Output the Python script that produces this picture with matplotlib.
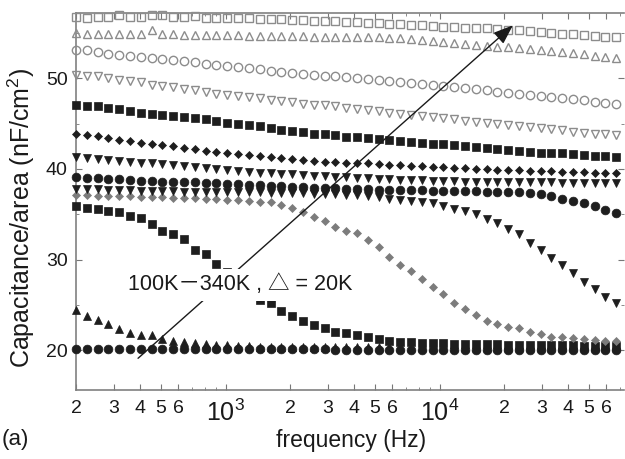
import numpy as np
import matplotlib
matplotlib.use("Agg")
import matplotlib.pyplot as plt
from matplotlib.ticker import FixedLocator, FixedFormatter, NullFormatter

plt.rcParams['font.family'] = ['Liberation Sans', 'DejaVu Sans']
plt.rcParams['mathtext.fontset'] = 'custom'
plt.rcParams['mathtext.rm'] = 'Liberation Sans'
plt.rcParams['mathtext.it'] = 'Liberation Sans:italic'

# measurement frequency grid (Hz), 20 points per decade
freq = np.logspace(np.log10(200), np.log10(67000), 51)

T100 = [20.1]*24 + [20.0]*27
T120 = [24.4, 23.8, 23.3, 22.9, 22.3, 21.9, 21.7, 21.7, 21.2, 21.0,
        20.9, 20.8, 20.7, 20.6, 20.6, 20.5, 20.5, 20.4, 20.4, 20.4,
        20.4, 20.4, 20.4, 20.4, 20.4, 20.4, 20.4, 20.4, 20.4, 20.4,
        20.3, 20.3, 20.3, 20.3, 20.3, 20.3, 20.3, 20.3, 20.3, 20.3,
        20.3, 20.3, 20.3, 20.3, 20.3, 20.3, 20.3, 20.3, 20.3, 20.3, 20.3]
T140 = [35.9, 35.7, 35.6, 35.3, 35.2, 34.8, 34.6, 33.9, 33.1, 32.8,
        32.3, 31.1, 30.6, 29.5, 28.6, 27.6, 26.5, 25.5, 25.2, 24.3,
        23.8, 23.2, 22.8, 22.4, 22.0, 21.9, 21.7, 21.5, 21.2, 21.0,
        20.9, 20.9, 20.8, 20.8, 20.8, 20.7, 20.7, 20.7, 20.7, 20.7,
        20.6, 20.6, 20.6, 20.6, 20.6, 20.6, 20.6, 20.5, 20.5, 20.5, 20.5]
T160 = [37.1, 37.1, 37.0, 37.0, 37.0, 37.0, 36.9, 36.9, 36.9, 36.8,
        36.8, 36.8, 36.7, 36.7, 36.6, 36.6, 36.5, 36.4, 36.3, 36.0,
        35.7, 35.2, 34.7, 34.2, 33.6, 33.2, 32.9, 32.2, 31.4, 30.3,
        29.4, 28.7, 27.8, 27.0, 26.2, 25.2, 24.5, 23.9, 23.2, 22.9,
        22.6, 22.4, 22.0, 21.8, 21.5, 21.4, 21.3, 21.2, 21.1, 21.0, 21.0]
T180 = [37.8, 37.8, 37.8, 37.7, 37.7, 37.7, 37.6, 37.6, 37.6, 37.6,
        37.5, 37.5, 37.5, 37.5, 37.4, 37.4, 37.4, 37.4, 37.3, 37.3,
        37.3, 37.3, 37.2, 37.2, 37.2, 37.1, 37.1, 37.0, 36.85, 36.7,
        36.6, 36.5, 36.4, 36.2, 35.9, 35.6, 35.3, 35.0, 34.5, 34.0,
        33.4, 32.8, 31.8, 31.1, 30.2, 29.4, 28.5, 27.5, 26.8, 25.9, 25.2]
T200 = [39.1, 39.0, 39.0, 38.9, 38.9, 38.8, 38.7, 38.7, 38.6, 38.6,
        38.5, 38.5, 38.4, 38.4, 38.3, 38.3, 38.2, 38.2, 38.1, 38.1,
        38.0, 38.0, 37.9, 37.9, 37.9, 37.8, 37.8, 37.8, 37.7, 37.7,
        37.7, 37.7, 37.7, 37.6, 37.6, 37.6, 37.6, 37.6, 37.5, 37.5,
        37.5, 37.4, 37.3, 37.2, 37.0, 36.7, 36.5, 36.2, 35.9, 35.5, 35.1]
T220 = [41.3, 41.2, 41.1, 41.0, 40.9, 40.8, 40.7, 40.6, 40.5, 40.4,
        40.3, 40.2, 40.1, 40.0, 39.9, 39.8, 39.7, 39.6, 39.5, 39.4,
        39.4, 39.3, 39.2, 39.2, 39.1, 39.1, 39.0, 39.0, 38.9, 38.9,
        38.8, 38.8, 38.8, 38.7, 38.7, 38.7, 38.6, 38.6, 38.6, 38.6,
        38.5, 38.5, 38.5, 38.5, 38.5, 38.4, 38.4, 38.4, 38.4, 38.4, 38.4]
T240 = [43.9, 43.7, 43.6, 43.4, 43.2, 43.1, 42.9, 42.8, 42.6, 42.5,
        42.3, 42.2, 42.0, 41.9, 41.8, 41.6, 41.5, 41.4, 41.3, 41.2,
        41.1, 41.0, 40.9, 40.8, 40.8, 40.7, 40.6, 40.6, 40.5, 40.4,
        40.4, 40.3, 40.3, 40.2, 40.2, 40.1, 40.1, 40.0, 40.0, 39.9,
        39.9, 39.9, 39.8, 39.8, 39.8, 39.7, 39.7, 39.7, 39.6, 39.6, 39.6]
T260 = [47.0, 46.9, 46.9, 46.7, 46.6, 46.4, 46.2, 46.1, 46.0, 45.8,
        45.7, 45.6, 45.5, 45.3, 45.1, 44.9, 44.8, 44.7, 44.5, 44.3,
        44.2, 44.1, 43.9, 43.8, 43.7, 43.5, 43.5, 43.4, 43.3, 43.2,
        43.1, 43.0, 42.9, 42.8, 42.7, 42.6, 42.5, 42.4, 42.3, 42.2,
        42.1, 42.0, 41.9, 41.8, 41.7, 41.7, 41.6, 41.5, 41.4, 41.4, 41.3]
T280 = [50.4, 50.3, 50.2, 50.0, 49.8, 49.7, 49.6, 49.3, 49.1, 49.0,
        48.8, 48.7, 48.5, 48.3, 48.2, 48.0, 47.9, 47.8, 47.6, 47.5,
        47.4, 47.2, 47.1, 47.0, 46.9, 46.7, 46.6, 46.5, 46.4, 46.2,
        46.1, 46.0, 45.8, 45.7, 45.6, 45.5, 45.3, 45.2, 45.1, 45.0,
        44.8, 44.7, 44.6, 44.5, 44.4, 44.3, 44.1, 44.0, 43.9, 43.8, 43.7]
T300 = [53.1, 53.1, 52.9, 52.7, 52.6, 52.5, 52.3, 52.2, 52.1, 52.0,
        51.9, 51.8, 51.6, 51.5, 51.4, 51.2, 51.1, 51.0, 50.8, 50.7,
        50.6, 50.5, 50.4, 50.3, 50.2, 50.1, 50.0, 49.9, 49.8, 49.7,
        49.6, 49.5, 49.4, 49.3, 49.1, 49.0, 48.9, 48.8, 48.7, 48.5,
        48.4, 48.3, 48.2, 48.0, 47.9, 47.8, 47.7, 47.6, 47.4, 47.3, 47.2]
T320 = [55.0, 54.9, 54.9, 54.9, 54.9, 54.9, 54.9, 55.3, 54.9, 54.9,
        54.8, 54.8, 54.8, 54.8, 54.8, 54.8, 54.7, 54.7, 54.7, 54.7,
        54.7, 54.7, 54.6, 54.6, 54.6, 54.6, 54.5, 54.5, 54.5, 54.4,
        54.4, 54.3, 54.2, 54.1, 54.0, 53.9, 53.8, 53.7, 53.6, 53.5,
        53.4, 53.3, 53.2, 53.1, 53.0, 52.9, 52.8, 52.7, 52.5, 52.4, 52.2]
T340 = [56.8, 56.7, 56.8, 56.8, 57.0, 56.8, 56.8, 57.0, 57.0, 56.8,
        56.8, 56.9, 56.7, 56.7, 56.6, 56.6, 56.6, 56.5, 56.5, 56.5,
        56.4, 56.4, 56.3, 56.3, 56.3, 56.2, 56.2, 56.1, 56.1, 56.0,
        56.0, 55.9, 55.9, 55.8, 55.7, 55.7, 55.6, 55.5, 55.5, 55.4,
        55.3, 55.3, 55.2, 55.1, 55.0, 54.9, 54.9, 54.8, 54.7, 54.6, 54.5]

series = [T100, T120, T140, T160, T180, T200, T220, T240, T260, T280, T300, T320, T340]

dark = '#1e1e1e'
gray = '#7c7c7c'
open_c = '#8c8c8c'
styles = [
    dict(marker='o', ms=6.3, mfc=dark, mec=dark, mew=0.5),
    dict(marker='^', ms=5.6, mfc=dark, mec=dark, mew=0.5),
    dict(marker='s', ms=6.0, mfc=dark, mec=dark, mew=0.5),
    dict(marker='D', ms=4.4, mfc=gray, mec=gray, mew=0.5),
    dict(marker='v', ms=5.6, mfc=dark, mec=dark, mew=0.5),
    dict(marker='o', ms=6.3, mfc=dark, mec=dark, mew=0.5),
    dict(marker='v', ms=5.6, mfc=dark, mec=dark, mew=0.5),
    dict(marker='D', ms=4.4, mfc=dark, mec=dark, mew=0.5),
    dict(marker='s', ms=6.0, mfc=dark, mec=dark, mew=0.5),
    dict(marker='v', ms=5.8, mfc='none', mec=open_c, mew=1.0),
    dict(marker='o', ms=6.0, mfc='none', mec=open_c, mew=1.0),
    dict(marker='^', ms=5.8, mfc='none', mec=open_c, mew=1.0),
    dict(marker='s', ms=6.0, mfc='none', mec=open_c, mew=1.0),
]

fig = plt.figure(figsize=(6.25, 4.59), dpi=100)
ax = fig.add_axes([76/625, 1-390/459, (624-76)/625, (390-13)/459])
ax.set_xscale('log')

for vals, st in zip(series, styles):
    ax.plot(freq, vals, linestyle='none', clip_on=False, zorder=3, **st)

ax.set_xlim(200, 72800)
ax.set_ylim(15.6, 57.2)

major_x = [200, 300, 400, 500, 600, 1000, 2000, 3000, 4000, 5000, 6000,
           10000, 20000, 30000, 40000, 50000, 60000]
major_lbl = ['2', '3', '4', '5', '6', '$10^3$', '2', '3', '4', '5', '6',
             '$10^4$', '2', '3', '4', '5', '6']
minor_x = [700, 800, 900, 7000, 8000, 9000, 70000]
ax.xaxis.set_major_locator(FixedLocator(major_x))
ax.xaxis.set_major_formatter(FixedFormatter(major_lbl))
ax.xaxis.set_minor_locator(FixedLocator(minor_x))
ax.xaxis.set_minor_formatter(NullFormatter())
ax.set_yticks([20, 30, 40, 50])
ax.set_yticks([25, 35, 45, 55], minor=True)

ax.tick_params(axis='both', which='both', direction='in', top=True, right=True,
               color='#777777', labelcolor='#1a1a1a')
ax.tick_params(axis='both', which='major', length=4, width=0.8, labelsize=14)
ax.tick_params(axis='both', which='minor', length=2.5, width=0.6)
ax.tick_params(axis='x', which='major', pad=7)
ax.tick_params(axis='y', which='major', pad=6)
for lbl in ax.get_xticklabels():
    if '10' in lbl.get_text():
        lbl.set_fontsize(18)

for side in ['left', 'bottom', 'top']:
    ax.spines[side].set_color('#808080')
    ax.spines[side].set_linewidth(1.2)
ax.spines['right'].set_visible(False)

ax.annotate('', xy=(22030, 55.84), xytext=(390, 19.1),
            arrowprops=dict(arrowstyle='-|>,head_length=0.8,head_width=0.3',
                            color='#1a1a1a', lw=1.0, mutation_scale=15,
                            shrinkA=0, shrinkB=0), zorder=4)

ax.text(350, 27.2, '100K－340K , △ = 20K', fontsize=15.5, ha='left', va='center',
        color='#1a1a1a',
        family=['Liberation Sans', 'Noto Sans CJK SC', 'DejaVu Sans'],
        bbox=dict(fc='white', ec='none', pad=4), zorder=6)

fig.text(351/625, 1-440/459, 'frequency (Hz)', ha='center', va='center',
         fontsize=16.5, color='#1a1a1a')
fig.text(2/625, 1-440/459, '(a)', ha='left', va='center', fontsize=16,
         color='#1a1a1a')
fig.text(21/625, 1-218/459, 'Capacitance/area (nF/cm$^2$)', rotation=90,
         ha='center', va='center', fontsize=18, color='#1a1a1a')

fig.savefig('out.png', dpi=100)
